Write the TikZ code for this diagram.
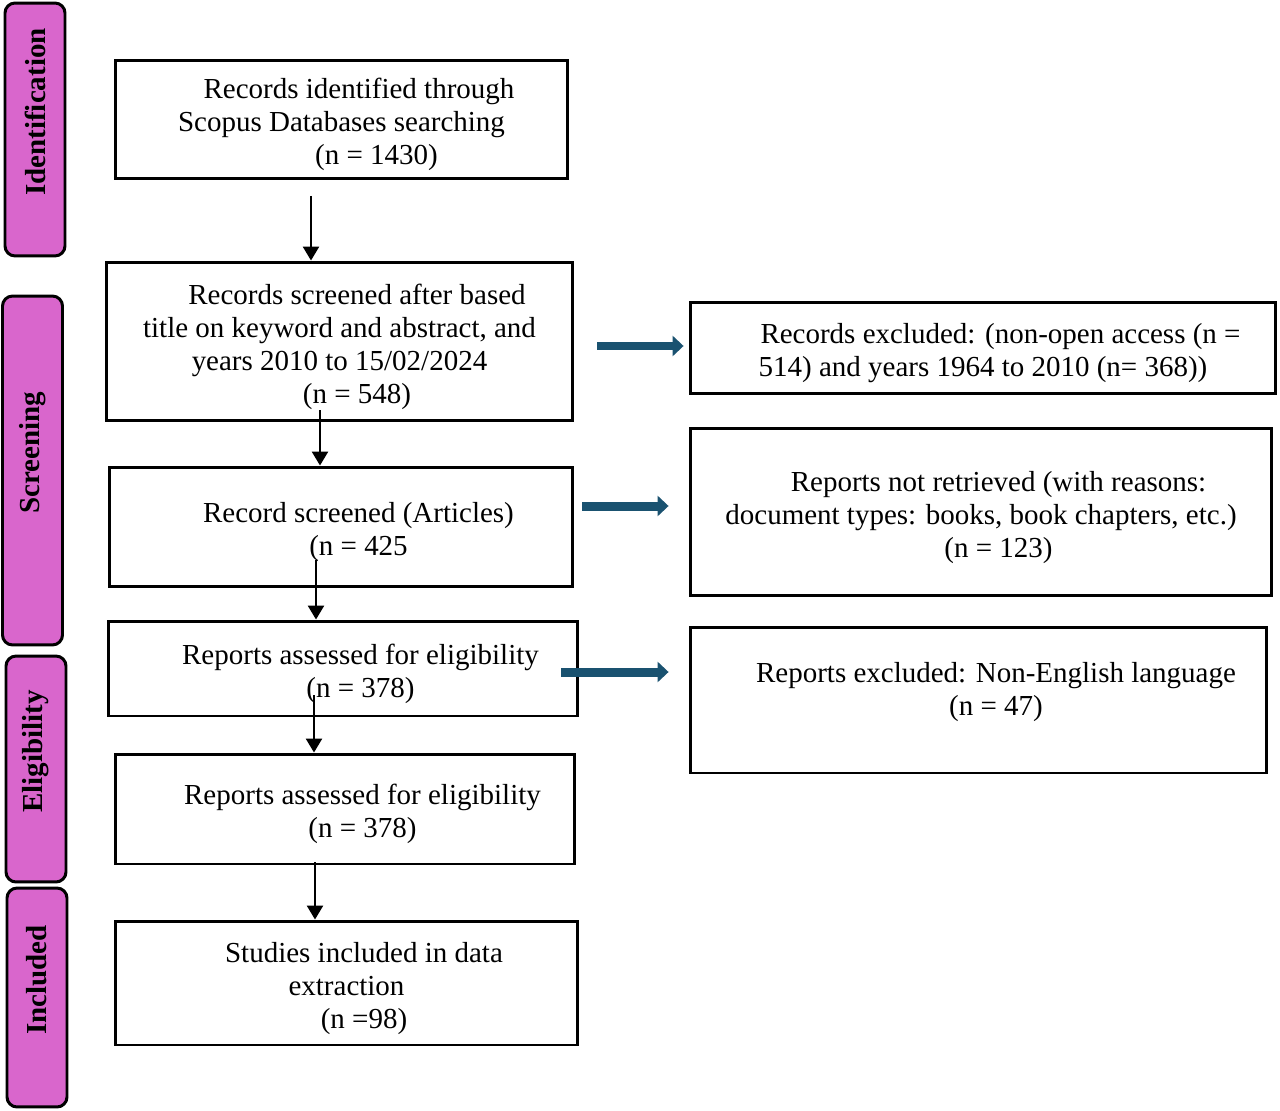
\documentclass[tikz,border=0pt]{standalone}
\usepackage{fontspec}
\setmainfont{Liberation Serif}
\usetikzlibrary{arrows.meta}

\definecolor{bandpink}{RGB}{217,102,204}
\definecolor{arrowblue}{RGB}{26,82,112}
\newcommand{\indt}{\hspace*{0.7cm}}
\newcommand{\firstl}{\rule{0pt}{0.62cm}\indt}

\tikzset{
	box/.style={draw, line width=1.7pt, align=center, inner sep=0pt, font=\fontsize{16.5}{18.8}\selectfont},
	band/.style={draw, fill=bandpink, rounded corners=0.2cm, line width=1.7pt, minimum height=1.2cm, rotate=90, font=\bfseries\fontsize{16.5}{18.8}\selectfont},
	flow/.style={-{Triangle[width=0.32cm,length=0.28cm]}, line width=1.5pt},
	side/.style={-{Triangle[width=0.4cm,length=0.22cm]}, line width=0.18cm, arrowblue},
}

\begin{document}
\begin{tikzpicture}[x=0.02cm, y=-0.02cm]
			\useasboundingbox (0,0) rectangle (1280,1111);

			% phase bands
			\foreach \x/\y/\len/\lbl [count=\i] in {35/129.5/5.06/Identification, 32.5/470.5/6.98/Screening, 36/769/4.52/Eligibility, 37/997.5/4.38/Included}
			{
				\node[band, minimum width=\len cm] (band\i) at (\x,\y) {\indt\lbl};
			}

			% main column
			\node[box, minimum width=9.06cm, minimum height=2.38cm] (b1) at (341.5,119.5)
				{\firstl Records identified through\\Scopus Databases searching\\\indt\indt(n = 1430)};
			\node[box, minimum width=9.34cm, minimum height=3.18cm] (b2) at (339.5,341.5)
				{\firstl Records screened after based\\title on keyword and abstract, and\\years 2010 to 15/02/2024\\\indt(n = 548)};
			\node[box, minimum width=9.28cm, minimum height=2.4cm] (b3) at (341,527)
				{\firstl Record screened (Articles)\\\indt(n = 425};
			\node[box, minimum width=9.4cm, minimum height=1.9cm] (b4) at (343,668.5)
				{\firstl Reports assessed for eligibility\\\indt(n = 378)};
			\node[box, minimum width=9.2cm, minimum height=2.2cm] (b5) at (345,809)
				{\firstl Reports assessed for eligibility\\\indt(n = 378)};
			\node[box, minimum width=9.26cm, minimum height=2.48cm] (b6) at (346.5,983)
				{\firstl Studies included in data\\extraction\\\indt(n =98)};

			% excluded column
			\node[box, minimum width=11.72cm, minimum height=1.84cm] (r1) at (983,348)
				{\firstl Records excluded: (non-open access (n =\\514) and years 1964 to 2010 (n= 368))};
			\node[box, minimum width=11.64cm, minimum height=3.36cm] (r2) at (981,512)
				{\firstl Reports not retrieved (with reasons:\\document types: books, book chapters, etc.)\hspace*{0.32cm}\\\indt(n = 123)};
			\node[box, minimum width=11.54cm, minimum height=2.92cm] (r3) at (978.5,700)
				{\firstl Reports excluded: Non-English language\\\indt(n = 47)\\\mbox{}};

			% downward arrows
			\coordinate (s1) at (311,196);
			\coordinate (s2) at (320,410);
			\coordinate (s3) at (316,560);
			\coordinate (s4) at (314,695);
			\coordinate (s5) at (315,862);
			\begin{scope}
				\draw[flow] (s1) -- (s1 |- b2.north);
				\draw[flow] (s2) -- (s2 |- b3.north);
				\draw[flow] (s3) -- (s3 |- b4.north);
				\draw[flow] (s4) -- (s4 |- b5.north);
				\draw[flow] (s5) -- (s5 |- b6.north);
			\end{scope}

			% side arrows
			\coordinate (x1) at (597,346);
			\coordinate (x2) at (582,506);
			\coordinate (x3) at (561,672);
			\begin{scope}
				\draw[side, shorten >=0.1cm] (x1) -- (x1 -| r1.west);
				\draw[side, shorten >=0.4cm] (x2) -- (x2 -| r2.west);
				\draw[side, shorten >=0.4cm] (x3) -- (x3 -| r3.west);
			\end{scope}
		\end{tikzpicture}
\end{document}
